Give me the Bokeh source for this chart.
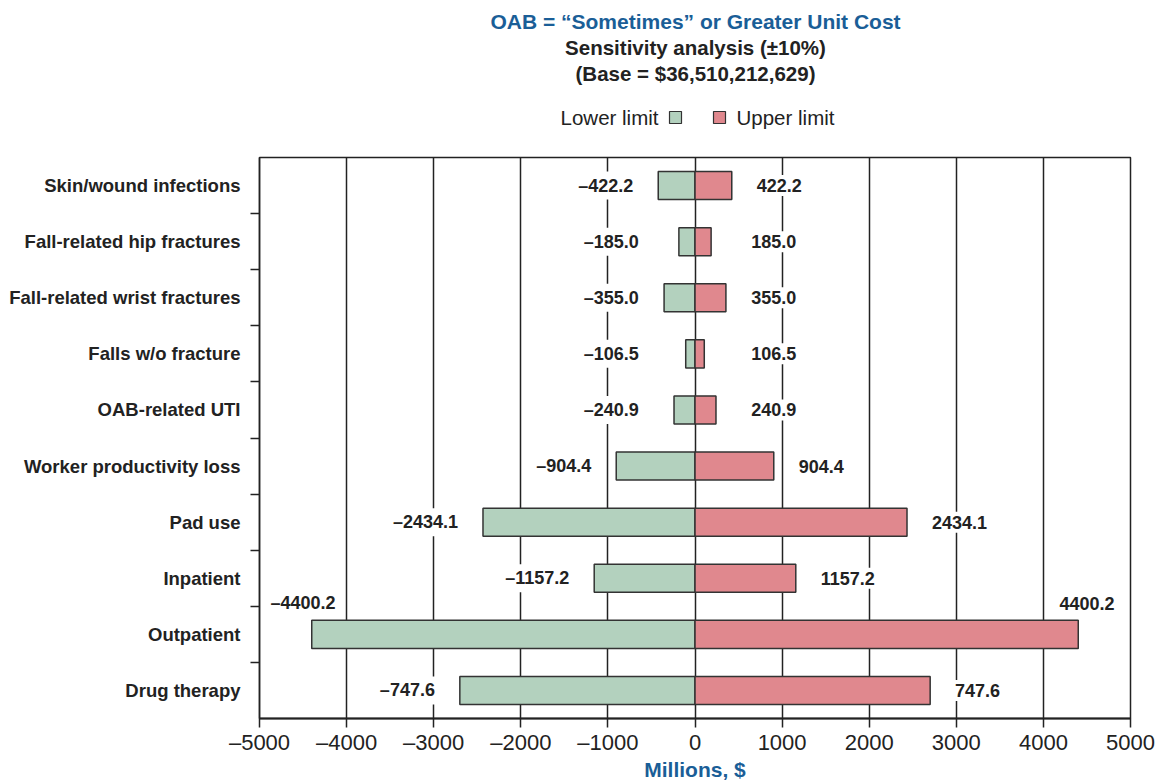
from bokeh.plotting import figure
from bokeh.layouts import column
from bokeh.models import FixedTicker, ColumnDataSource, Range1d
from bokeh.core.properties import value
from bokeh.embed import file_html
from bokeh.resources import INLINE

# ---------------- data ----------------
categories = ["Skin/wound infections", "Fall-related hip fractures",
              "Fall-related wrist fractures", "Falls w/o fracture",
              "OAB-related UTI", "Worker productivity loss", "Pad use",
              "Inpatient", "Outpatient", "Drug therapy"]
lower_values = [-422.2, -185.0, -355.0, -106.5, -240.9, -904.4, -2434.1,
                -1157.2, -4400.2, -2700.0]
upper_values = [422.2, 185.0, 355.0, 106.5, 240.9, 904.4, 2434.1,
                1157.2, 4400.2, 2700.0]
lower_labels = ["\u2013422.2", "\u2013185.0", "\u2013355.0", "\u2013106.5",
                "\u2013240.9", "\u2013904.4", "\u20132434.1", "\u20131157.2",
                "\u20134400.2", "\u2013747.6"]
upper_labels = ["422.2", "185.0", "355.0", "106.5", "240.9", "904.4",
                "2434.1", "1157.2", "4400.2", "747.6"]
x_ticks = [-5000, -4000, -3000, -2000, -1000, 0, 1000, 2000, 3000, 4000, 5000]
x_tick_labels = ["\u20135000", "\u20134000", "\u20133000", "\u20132000",
                 "\u20131000", "0", "1000", "2000", "3000", "4000", "5000"]

title_1 = "OAB = \u201cSometimes\u201d or Greater Unit Cost"
title_2 = "Sensitivity analysis (\u00b110%)"
title_3 = "(Base = $36,510,212,629)"
legend_lower = "Lower limit"
legend_upper = "Upper limit"
x_title = "Millions, $"

# ---------------- style ----------------
GREEN = "#b3d1be"
RED = "#e0888e"
EDGE = "#333333"
INK = "#222222"
BLUE = "#1a5e97"
FONT = value("Liberation Sans")

n = len(categories)
rows = [n - i - 0.5 for i in range(n)]

W = 1158
H_HEAD = 140
H_MAIN = 643
BL, BR, BT, BB = 259, 28, 17, 62
XMIN, XMAX = -5000, 5000

# ---------------- header (titles + legend) ----------------
# header frame is aligned with the chart frame (page x 259 .. 1130)
h = figure(width=W, height=H_HEAD, x_range=Range1d(BL, W - BR), y_range=Range1d(H_HEAD, 0),
           output_backend="svg", toolbar_location=None, title=None,
           x_axis_location=None, y_axis_location=None,
           min_border_left=BL, min_border_right=BR, min_border_top=0, min_border_bottom=0)
h.outline_line_color = None
h.xgrid.visible = False
h.ygrid.visible = False
h.background_fill_color = "white"
h.border_fill_color = "white"

CX = 695
h.text(x=[CX], y=[21], text=[title_1], text_font=FONT, text_font_size="21px",
       text_font_style="bold", text_color=BLUE, text_align="center", text_baseline="middle")
h.text(x=[CX, CX], y=[47, 73], text=[title_2, title_3], text_font=FONT,
       text_font_size="20.5px", text_font_style="bold", text_color=INK,
       text_align="center", text_baseline="middle")
h.text(x=[CX - 37], y=[117], text=[legend_lower], text_font=FONT, text_font_size="20.5px",
       text_color=INK, text_align="right", text_baseline="middle")
h.text(x=[CX + 41], y=[117], text=[legend_upper], text_font=FONT, text_font_size="20.5px",
       text_color=INK, text_align="left", text_baseline="middle")
h.rect(x=[CX - 20, CX + 24], y=[117, 117], width=12, height=12,
       fill_color=[GREEN, RED], line_color=EDGE, line_width=1.2)

# ---------------- main chart ----------------
p = figure(width=W, height=H_MAIN, x_range=Range1d(XMIN, XMAX), y_range=Range1d(0, n),
           output_backend="svg", toolbar_location=None, title=None,
           min_border_left=BL, min_border_right=BR, min_border_top=BT,
           min_border_bottom=BB)
p.background_fill_color = "white"
p.border_fill_color = "white"
p.outline_line_color = INK
p.outline_line_width = 1.5

p.hbar(y=rows, left=lower_values, right=0, height=0.5, fill_color=GREEN,
       line_color=EDGE, line_width=1.5)
p.hbar(y=rows, left=0, right=upper_values, height=0.5, fill_color=RED,
       line_color=EDGE, line_width=1.5)

# value labels
GAP = 240
MINPOS = 600
lx, ly, la = [], [], []
rx, ry, ra = [], [], []
for r, lo, up in zip(rows, lower_values, upper_values):
    if abs(lo) + GAP + 700 > XMAX:
        lx.append(lo - 100); ly.append(r + 0.55); la.append("center")
    else:
        lx.append(-max(abs(lo) + GAP, MINPOS)); ly.append(r); la.append("right")
    if abs(up) + GAP + 700 > XMAX:
        rx.append(up + 100); ry.append(r + 0.55); ra.append("center")
    else:
        rx.append(max(abs(up) + GAP, MINPOS)); ry.append(r); ra.append("left")

src_l = ColumnDataSource(dict(x=lx, y=ly, t=lower_labels, a=la))
src_r = ColumnDataSource(dict(x=rx, y=ry, t=upper_labels, a=ra))
for src in (src_l, src_r):
    p.text(x="x", y="y", text="t", text_align="a", source=src,
           text_font=FONT, text_font_size="18px", text_font_style="bold",
           text_color=INK, text_baseline="middle",
           background_fill_color="white", padding=4)

# axes
p.xaxis.ticker = FixedTicker(ticks=x_ticks)
p.xaxis.major_label_overrides = {t: s for t, s in zip(x_ticks, x_tick_labels)}
p.xaxis.major_label_text_font = "Liberation Sans"
p.xaxis.major_label_text_font_size = "22px"
p.xaxis.major_label_text_color = INK
p.xaxis.major_tick_out = 9
p.xaxis.major_tick_in = 0
p.xaxis.minor_tick_line_color = None
p.xaxis.axis_line_width = 2
p.xaxis.axis_line_color = INK
p.xaxis.major_tick_line_width = 1.5
p.xaxis.major_tick_line_color = INK
p.xaxis.major_label_standoff = 2
p.xaxis.axis_label = x_title
p.xaxis.axis_label_text_font = "Liberation Sans"
p.xaxis.axis_label_text_font_size = "21px"
p.xaxis.axis_label_text_font_style = "bold"
p.xaxis.axis_label_text_color = BLUE
p.xaxis.axis_label_standoff = 0

p.yaxis.ticker = FixedTicker(ticks=rows, minor_ticks=list(range(1, n)))
p.yaxis.major_label_overrides = {r: c for r, c in zip(rows, categories)}
p.yaxis.major_label_text_font = "Liberation Sans"
p.yaxis.major_label_text_font_size = "18.5px"
p.yaxis.major_label_text_font_style = "bold"
p.yaxis.major_label_text_color = INK
p.yaxis.major_tick_line_color = None
p.yaxis.major_tick_out = 0
p.yaxis.major_label_standoff = 10
p.yaxis.minor_tick_out = 9
p.yaxis.minor_tick_in = 0
p.yaxis.minor_tick_line_width = 1.5
p.yaxis.minor_tick_line_color = INK
p.yaxis.axis_line_width = 1.5
p.yaxis.axis_line_color = INK

p.xgrid.ticker = FixedTicker(ticks=x_ticks[1:-1])
p.xgrid.grid_line_color = INK
p.xgrid.grid_line_width = 1.5
p.ygrid.visible = False

layout = column(h, p, spacing=0)
open("out.html", "w").write(file_html(layout, INLINE))
